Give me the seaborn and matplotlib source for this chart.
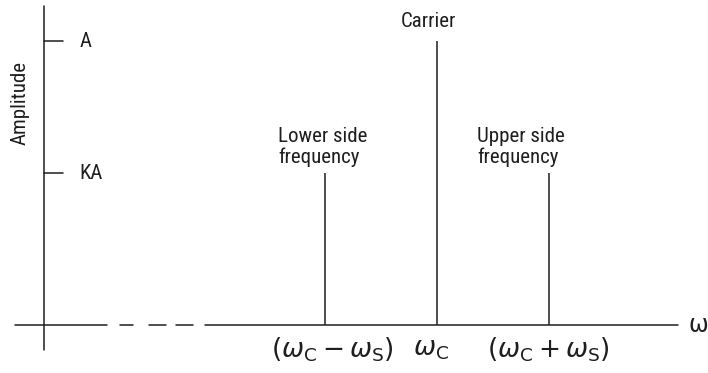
import matplotlib
matplotlib.use("Agg")
import matplotlib.pyplot as plt
from matplotlib import font_manager
import seaborn as sns

# Spectrum of an AM signal: carrier plus two side frequencies
offsets = [-1, 0, 1]            # position relative to the carrier, in units of omega_s
K = 0.535                        # modulation factor (side amplitude = K*A)
amplitudes = [K, 1.0, K]         # in units of A
line_labels = ["Lower side\nfrequency", "Carrier", "Upper side\nfrequency"]
freq_labels = [r"$(\omega_{\mathrm{C}}-\omega_{\mathrm{S}})$",
               r"$\omega_{\mathrm{C}}$",
               r"$(\omega_{\mathrm{C}}+\omega_{\mathrm{S}})$"]
amp_ticks = [1.0, K]
amp_tick_labels = ["A", "KA"]

sns.set_theme(style="white")

# prefer a narrow sans face when one is installed
names = {f.name for f in font_manager.fontManager.ttflist}
narrow = [n for n in ["Liberation Sans Narrow", "DejaVu Sans Condensed", "Roboto Condensed",
                      "Open Sans Condensed"] if n in names]
plt.rcParams["font.family"] = narrow + ["Roboto", "DejaVu Sans"]
plt.rcParams["mathtext.fontset"] = "dejavusans"

ink = "#1e1e1e"
lw = 1.1
fs = 15

fig = plt.figure(figsize=(7.08, 3.73), dpi=100)
ax = fig.add_axes([0, 0, 1, 1])
ax.set_xlim(-3.902, 2.42)
ax.set_ylim(-0.169, 1.1444)
ax.axis("off")

# vertical amplitude axis
y_axis_x = -3.509
ax.plot([y_axis_x, y_axis_x], [-0.088, 1.123], color=ink, lw=lw)

# horizontal frequency axis, broken with dashes near the origin
ax.plot([-3.768, -2.946], [0, 0], color=ink, lw=lw)
for a, b in [(-2.830, -2.710), (-2.571, -2.420), (-2.330, -2.179)]:
    ax.plot([a, b], [0, 0], color=ink, lw=lw)
ax.plot([-2.071, 2.152], [0, 0], color=ink, lw=lw)
ax.text(2.33, 0.0, "ω", fontsize=17, ha="center", va="center", color=ink,
        family=["DejaVu Sans"])

# amplitude ticks and labels
for val, lab in zip(amp_ticks, amp_tick_labels):
    ax.plot([y_axis_x, -3.339], [val, val], color=ink, lw=lw)
    ax.text(-3.19, val, lab, fontsize=fs, ha="left", va="center", color=ink)
ax.text(-3.72, 0.78, "Amplitude", fontsize=fs, rotation=90,
        ha="center", va="center", color=ink)

# spectral lines
ax.vlines(offsets, 0, amplitudes, color=ink, lw=lw)

# line annotations
ax.text(-1.018, 0.556, line_labels[0], fontsize=fs, ha="center", va="bottom",
        multialignment="left", linespacing=1.1, color=ink)
ax.text(-0.08, 1.067, line_labels[1], fontsize=fs, ha="center", va="center", color=ink)
ax.text(0.75, 0.556, line_labels[2], fontsize=fs, ha="center", va="bottom",
        multialignment="left", linespacing=1.1, color=ink)

# frequency labels under the axis
label_x = [-0.93, -0.05, 1.0]
for x, lab in zip(label_x, freq_labels):
    ax.text(x, -0.088, lab, fontsize=19, ha="center", va="center", color=ink)

fig.savefig("out.png", dpi=100, facecolor="white")
